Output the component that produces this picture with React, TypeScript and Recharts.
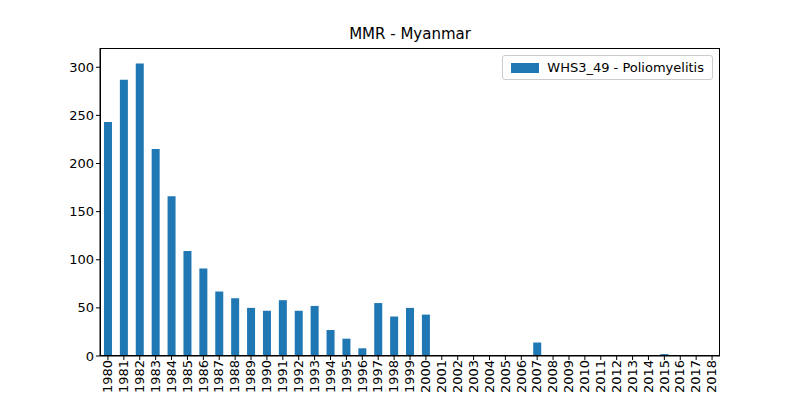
import React from "react";
import { BarChart, Bar, XAxis, YAxis } from "recharts";

const years = [
  "1980","1981","1982","1983","1984","1985","1986","1987","1988","1989",
  "1990","1991","1992","1993","1994","1995","1996","1997","1998","1999",
  "2000","2001","2002","2003","2004","2005","2006","2007","2008","2009",
  "2010","2011","2012","2013","2014","2015","2016","2017","2018",
];
const polio = [
  243, 287, 304, 215, 166, 109, 91, 67, 60, 50,
  47, 58, 47, 52, 27, 18, 8, 55, 41, 50,
  43, 0, 0, 0, 0, 0, 1, 14, 0, 0,
  0, 0, 0, 0, 0, 2, 0, 0, 0,
];
const yTicks = [0, 50, 100, 150, 200, 250, 300];

const data = years.map((y, i) => ({ year: y, value: polio[i] }));
const font = "DejaVu Sans, sans-serif";

export default function App() {
  return (
    <div style={{ position: "absolute", left: 0, top: 0, width: 800, height: 400, background: "#fff" }}>
      <div
        style={{
          position: "absolute", top: 25, width: 820, textAlign: "center",
          fontFamily: font, fontSize: 15,
        }}
      >
        MMR - Myanmar
      </div>
      <BarChart
        width={800}
        height={400}
        data={data}
        margin={{ top: 48, right: 80, left: 40, bottom: 0 }}
        barCategoryGap="25%"
      >
        <XAxis
          dataKey="year"
          interval={0}
          angle={-90}
          textAnchor="end"
          height={44}
          dx={-5}
          dy={-2}
          tick={{ fill: "#000", fontSize: 13, fontFamily: font }}
          stroke="#000"
          tickSize={4}
        />
        <YAxis
          width={60}
          domain={[0, 320]}
          ticks={yTicks}
          tick={{ fill: "#000", fontSize: 13, fontFamily: font }}
          stroke="#000"
          tickSize={4}
        />
        <Bar dataKey="value" fill="#1f77b4" isAnimationActive={false} />
      </BarChart>
      <div
        style={{
          position: "absolute", top: 55, right: 87,
          border: "1px solid #ccc", borderRadius: 3, background: "#fff",
          padding: "4px 8px", fontFamily: font, fontSize: 13,
          display: "flex", alignItems: "center", gap: 8,
        }}
      >
        <span style={{ width: 28, height: 10, background: "#1f77b4", display: "inline-block" }} />
        WHS3_49 - Poliomyelitis
      </div>
      <div style={{ position: "absolute", left: 100, top: 48, width: 620, height: 308, border: "1px solid #000", boxSizing: "border-box", pointerEvents: "none" }} />
    </div>
  );
}
